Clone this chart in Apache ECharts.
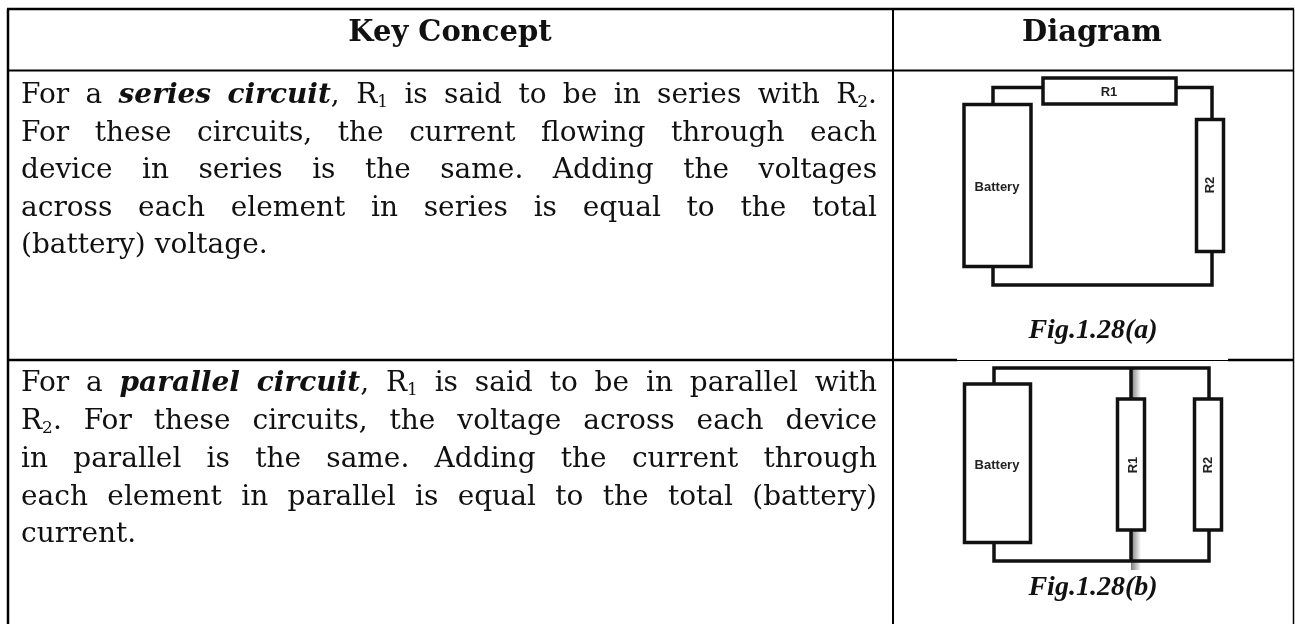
<!DOCTYPE html>
<html>
<head>
<meta charset="utf-8" />
<title>Key Concept</title>
<script src="https://cdn.jsdelivr.net/npm/echarts@6/dist/echarts.min.js"></script>
<style>html,body{margin:0;padding:0;background:#fff}#main{width:1295px;height:624px}</style>
</head>
<body>
<div id="main"></div>
<script>
// the page is a table, so the axes are plain pixel scales
const pageW = 1295, pageH = 624;

// [x1, y1, x2, y2]
const tableRules = [
    [7, 9, 1294, 9], [7, 70.5, 1294, 70.5],
    [7, 360, 957, 360], [957, 360.5, 1228, 360.5], [1228, 360, 1294, 360],
    [8, 9, 8, 624], [893, 9, 893, 624], [1293.5, 9, 1293.5, 624]
];
const ruleWidths = [2.5, 2, 2.5, 1, 2.5, 2.5, 2, 1.5];

// [x, y, w, h]
const boxes = [
    [964, 104.5, 67, 162], [1043, 78, 133, 26], [1196.5, 119.5, 27, 132],
    [964.5, 384, 66, 158.5], [1117.5, 399, 27, 131], [1194.5, 399, 27, 131]
];
const wires = [
    [[993, 104], [993, 87.5], [1043, 87.5]],
    [[1176, 87.5], [1212, 87.5], [1212, 119]],
    [[1212, 252], [1212, 285], [993, 285], [993, 267]],
    [[994, 384], [994, 368], [1209, 368], [1209, 399]],
    [[1131, 368], [1131, 399]],
    [[994, 543], [994, 561], [1209, 561], [1209, 530]],
    [[1131, 530], [1131, 561]]
];
// the smudge to the right of the middle branch: [x, y, w, h]
const smudges = [[1131, 368, 10, 31], [1131, 530, 10, 40]];

// [text, x, y, rotated]
const diagramLabels = [
    ['R1', 1109, 92, 0], ['Battery', 997, 187, 0], ['R2', 1210, 185, 1],
    ['Battery', 997, 465, 0], ['R1', 1133, 465, 1], ['R2', 1208, 465, 1]
];
const figureCaptions = ['Fig.1.28(a)', 'Fig.1.28(b)'];
const captionCentres = [[1093, 337], [1093, 594]];

const headers = ['Key Concept', 'Diagram'];
const headerCentres = [[450, 40], [1092, 40]];

// *x* is bold italic, _x is a subscript
const seriesLines = [
    'For a *series circuit*, R_1 is said to be in series with R_2.',
    'For these circuits, the current flowing through each',
    'device in series is the same. Adding the voltages',
    'across each element in series is equal to the total',
    '(battery) voltage.'
];
const parallelLines = [
    'For a *parallel circuit*, R_1 is said to be in parallel with',
    'R_2. For these circuits, the voltage across each device',
    'in parallel is the same. Adding the current through',
    'each element in parallel is equal to the total (battery)',
    'current.'
];
const seriesBaselines = [102, 140, 177, 215, 252];
const parallelBaselines = [390, 428, 466, 504, 541];

const textLeft = 21, textRight = 877, bodySize = 28, subSize = 17;
const serif = '"DejaVu Serif"';
const bodyFont = bodySize + 'px ' + serif;
const emphFont = 'italic bold ' + bodySize + 'px ' + serif;
const subFont = subSize + 'px ' + serif;

const ctx = document.createElement('canvas').getContext('2d');
function widthOf(text, font) {
    ctx.font = font;
    return ctx.measureText(text).width;
}

// cut a word into pieces of one style
function splitWord(word, emph) {
    let pieces = [];
    word.split(/(\*|_\d)/).forEach(function (part) {
        if (part === '') return;
        if (part === '*') { emph.on = !emph.on; return; }
        if (part[0] === '_') { pieces.push({ text: part[1], font: subFont, size: subSize, drop: 4 }); return; }
        pieces.push({ text: part, font: emph.on ? emphFont : bodyFont, size: bodySize, drop: 0 });
    });
    return pieces;
}

// lays the words out justified, the last line stays ragged
function layoutLines(lines, baselines) {
    let out = [];
    lines.forEach(function (line, i) {
        let emph = { on: false };
        let words = line.split(' ').map(function (w) { return splitWord(w, emph); });
        let widths = words.map(function (ps) {
            return ps.reduce(function (s, p) { return s + widthOf(p.text, p.font); }, 0);
        });
        let total = widths.reduce(function (a, b) { return a + b; }, 0);
        let gap = i === lines.length - 1 ? widthOf(' ', bodyFont) : (textRight - textLeft - total) / (words.length - 1);
        let x = textLeft;
        words.forEach(function (ps, k) {
            let px = x;
            ps.forEach(function (p) {
                out.push({ text: p.text, font: p.font, size: p.size, x: px, y: baselines[i] + p.drop });
                px += widthOf(p.text, p.font);
            });
            x += widths[k] + gap;
        });
    });
    return out;
}
const bodyWords = layoutLines(seriesLines, seriesBaselines).concat(layoutLines(parallelLines, parallelBaselines));

function pixelSeries(count, render) {
    let data = [];
    for (let i = 0; i < count; i++) data.push([i]);
    return { type: 'custom', data: data, silent: true, clip: false, animation: false, renderItem: render };
}

// zrender has no alphabetic baseline for text, middle sits this far above it
function midY(baseline, size) {
    return baseline - size * 0.22;
}
function textItem(api, text, x, y, font, size, align) {
    let p = api.coord([x, y]);
    return {
        type: 'text',
        style: { text: text, x: p[0], y: midY(p[1], size), font: font, fill: '#111', align: align, verticalAlign: 'middle' }
    };
}

const ink = '#111';

let option = {
    backgroundColor: '#fff',
    animation: false,
    grid: { left: 0, right: 0, top: 0, bottom: 0 },
    xAxis: { type: 'value', min: 0, max: pageW, show: false },
    yAxis: { type: 'value', min: 0, max: pageH, inverse: true, show: false },
    series: [
        pixelSeries(tableRules.length, function (params, api) {
            let r = tableRules[params.dataIndex];
            let a = api.coord([r[0], r[1]]), b = api.coord([r[2], r[3]]);
            return {
                type: 'line',
                shape: { x1: a[0], y1: a[1], x2: b[0], y2: b[1] },
                style: { stroke: '#000', lineWidth: ruleWidths[params.dataIndex] }
            };
        }),
        pixelSeries(smudges.length, function (params, api) {
            let s = smudges[params.dataIndex];
            let a = api.coord([s[0], s[1]]);
            return {
                type: 'rect',
                shape: { x: a[0], y: a[1], width: s[2], height: s[3] },
                style: {
                    fill: new echarts.graphic.LinearGradient(0, 0, 1, 0, [
                        { offset: 0, color: 'rgba(70,70,70,0.7)' },
                        { offset: 1, color: 'rgba(70,70,70,0)' }
                    ])
                }
            };
        }),
        pixelSeries(wires.length, function (params, api) {
            return {
                type: 'polyline',
                shape: { points: wires[params.dataIndex].map(function (p) { return api.coord(p); }) },
                style: { stroke: ink, fill: null, lineWidth: 3.5, lineJoin: 'miter' }
            };
        }),
        pixelSeries(boxes.length, function (params, api) {
            let b = boxes[params.dataIndex];
            let a = api.coord([b[0], b[1]]);
            return {
                type: 'rect',
                shape: { x: a[0], y: a[1], width: b[2], height: b[3] },
                style: { stroke: ink, fill: '#fff', lineWidth: 3.5 }
            };
        }),
        pixelSeries(diagramLabels.length, function (params, api) {
            let l = diagramLabels[params.dataIndex];
            let p = api.coord([l[1], l[2]]);
            return {
                type: 'text',
                x: p[0], y: p[1],
                rotation: l[3] ? Math.PI / 2 : 0,
                style: { text: l[0], x: 0, y: 0, font: 'bold 13px "Liberation Sans"', fill: '#222', align: 'center', verticalAlign: 'middle' }
            };
        }),
        pixelSeries(figureCaptions.length, function (params, api) {
            let c = captionCentres[params.dataIndex];
            return textItem(api, figureCaptions[params.dataIndex], c[0], c[1], 'italic bold 28px "Liberation Serif"', 28, 'center');
        }),
        pixelSeries(headers.length, function (params, api) {
            let c = headerCentres[params.dataIndex];
            return textItem(api, headers[params.dataIndex], c[0], c[1], 'bold 29px ' + serif, 29, 'center');
        }),
        pixelSeries(bodyWords.length, function (params, api) {
            let w = bodyWords[params.dataIndex];
            return textItem(api, w.text, w.x, w.y, w.font, w.size, 'left');
        })
    ]
};

let myChart = echarts.init(document.getElementById('main'));
myChart.setOption(option);
</script>
</body>
</html>
